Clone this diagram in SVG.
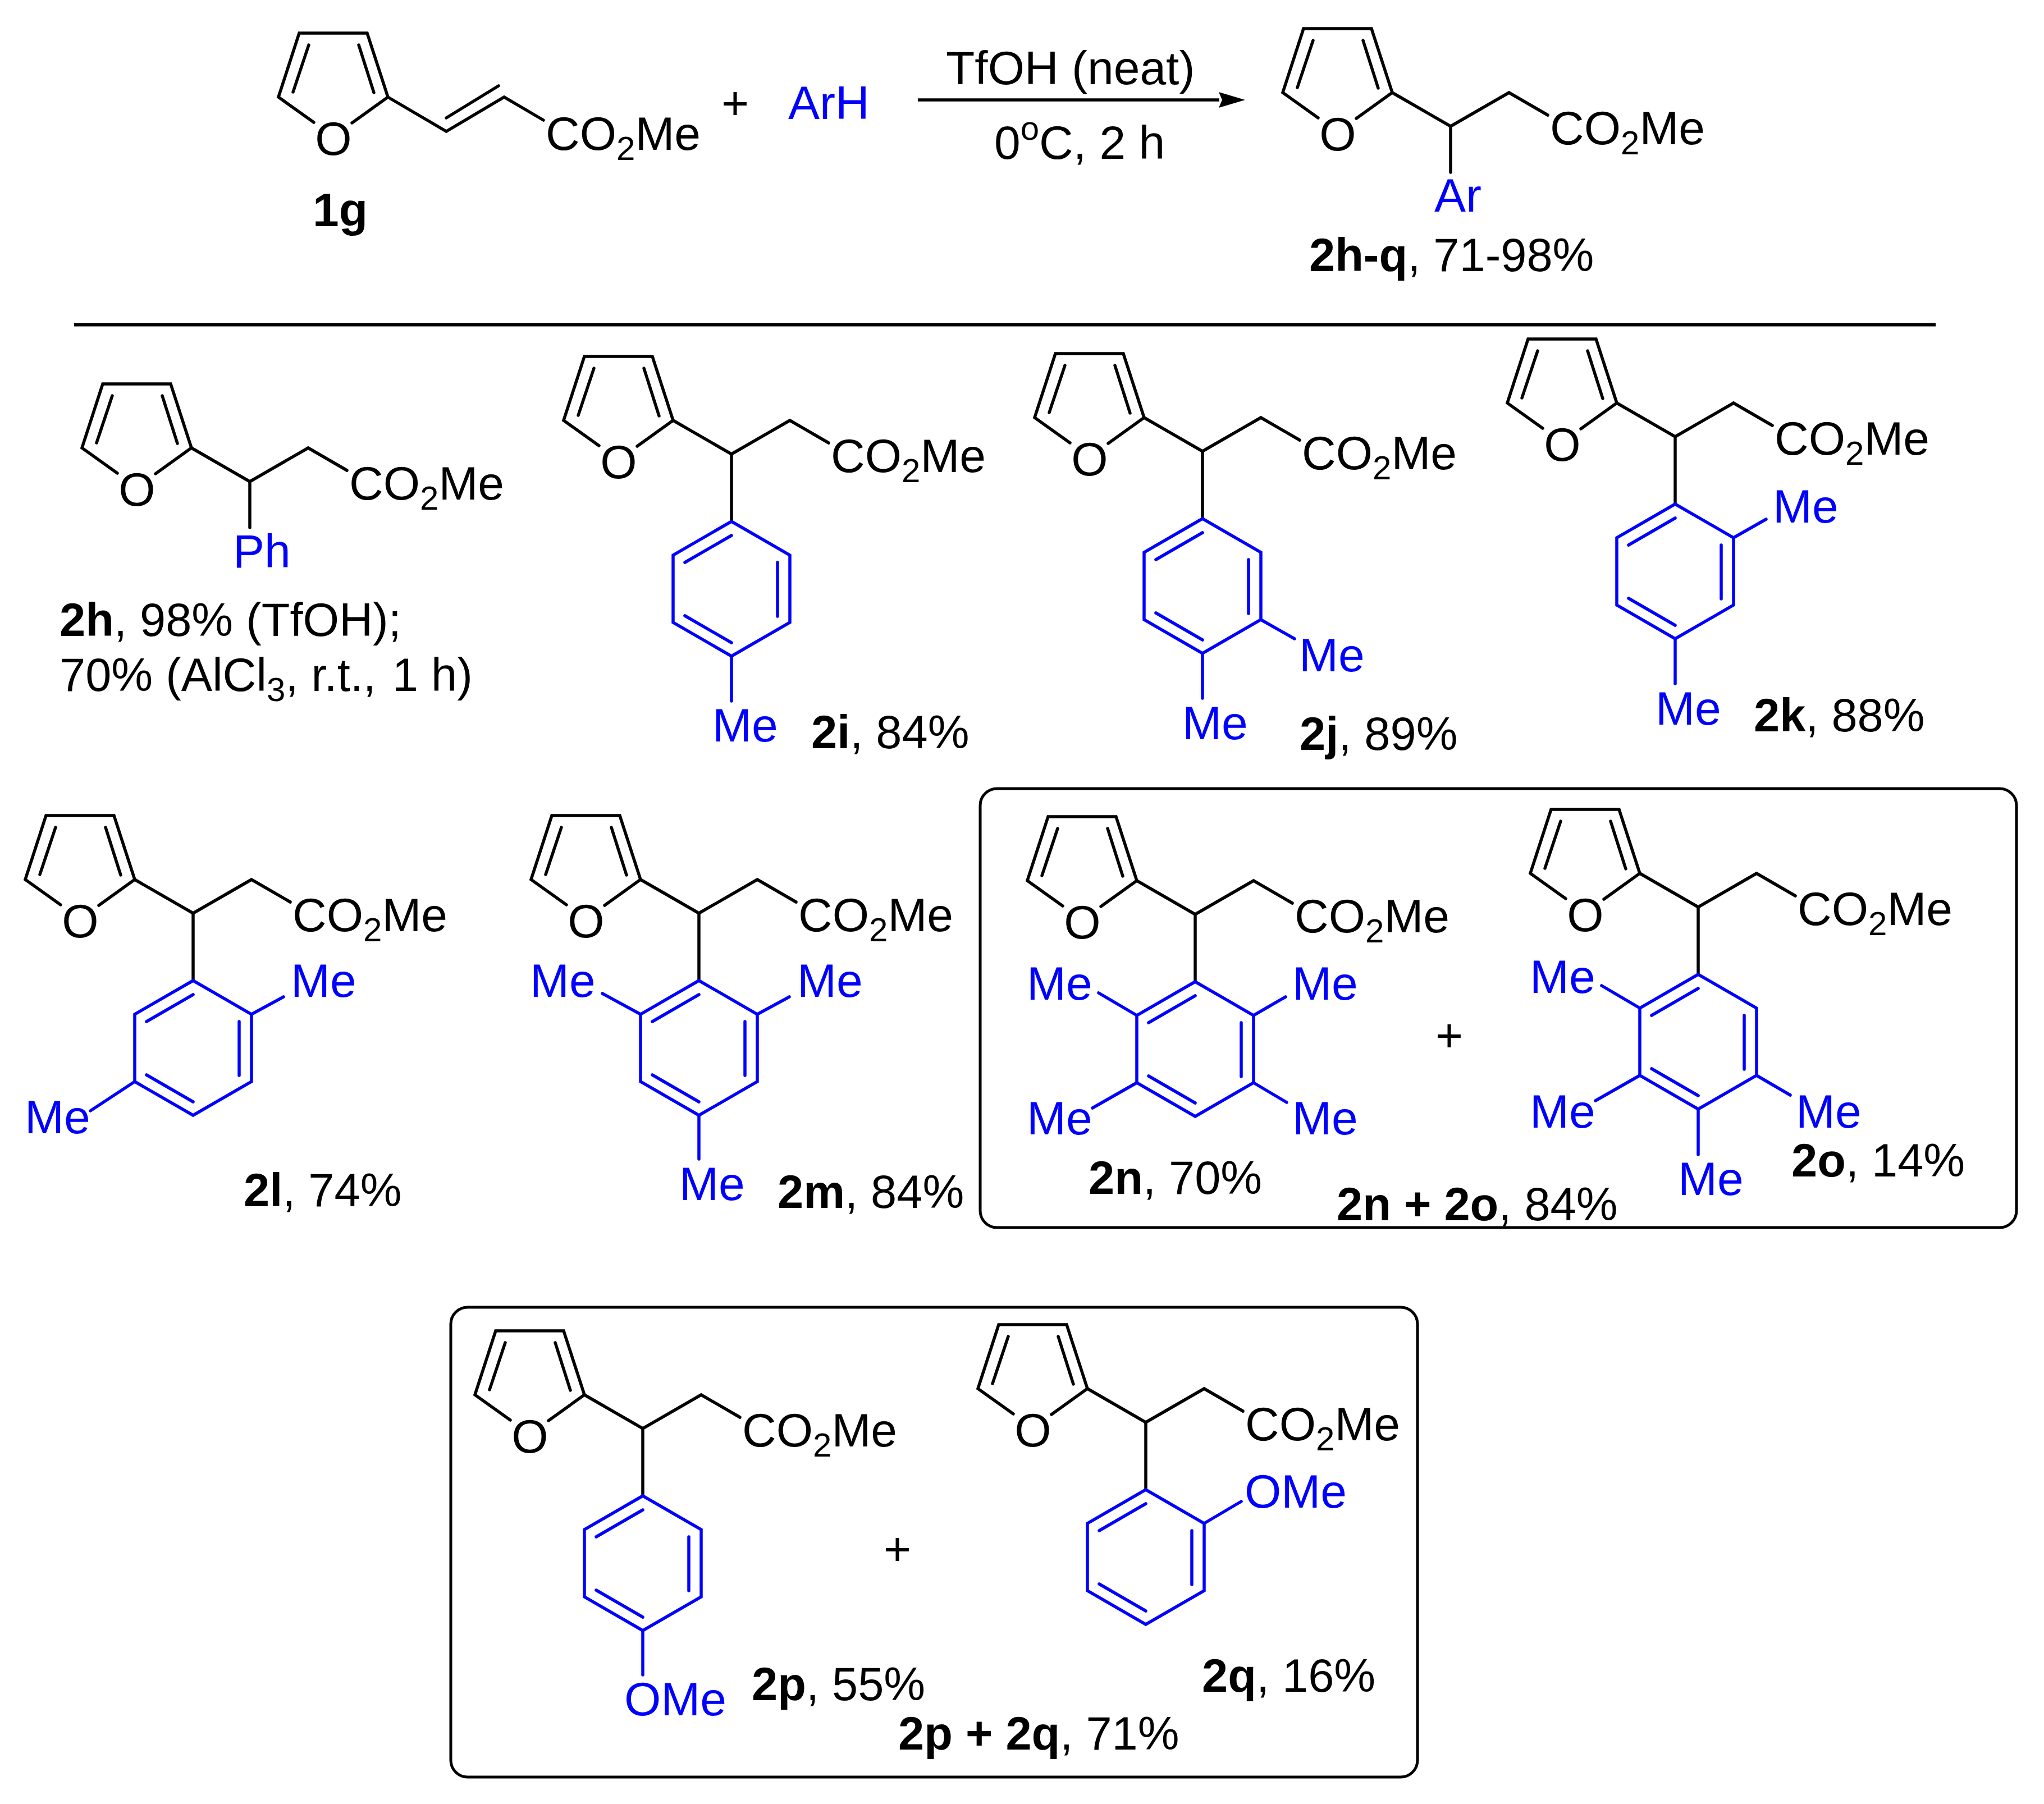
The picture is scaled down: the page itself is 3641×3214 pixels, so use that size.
<svg xmlns="http://www.w3.org/2000/svg" width="3641" height="3214" viewBox="0 0 3641 3214">
<style>
text{font-family:"Liberation Sans",Arial,sans-serif;font-size:84px;fill:#000}
.b{fill:#0000ff}
.s{font-size:60px}
.bold{font-weight:bold}
text.l{font-size:83px}
.k,.u{fill:none;stroke-width:5.5;stroke-linecap:round;stroke-linejoin:miter}
.k{stroke:#000}
.u{stroke:#0000ff}
.box{fill:none;stroke:#000;stroke-width:5}
</style>
<defs>
<path id="furan" class="k" d="M-64,46L0,0L-37,-114L-158,-114L-195,0L-132,45M-141,-93L-169,-9M-52,-93L-25,-8"/>
<path id="chain" class="k" d="M0,0L104,60L208,0L277,40"/>
<path id="stem" class="k" d="M104,60L104,180"/>
<path id="ring" class="u" d="M104,180L0,240L0,360L104,420L208,360L208,240ZM21,253L104,205M186,253L186,349M21,348L104,396"/>
<marker id="arrowhead" markerUnits="userSpaceOnUse" markerWidth="48" markerHeight="28" refX="1" refY="14" orient="auto" overflow="visible"><path d="M0,0L47,14L0,28L6,14Z" fill="#000"/></marker>
</defs>
<rect width="3641" height="3214" fill="#fff"/>

<g id="connectors">
<line x1="1635" y1="178" x2="2172" y2="178" stroke="#000" stroke-width="5.5" marker-end="url(#arrowhead)"/>
<line x1="132" y1="578.5" x2="3448" y2="578.5" stroke="#000" stroke-width="6"/>
</g>

<g id="reactant-1g">
<use href="#furan" x="691" y="173"/>
<path class="k" d="M691,173L795,234L898,173L968,214M795,210L888,153"/>
<text x="594" y="276" text-anchor="middle">O</text>
<text x="972" y="267">CO<tspan class="s" dy="18">2</tspan><tspan dy="-18">Me</tspan></text>
<text class="bold" x="557" y="403">1g</text>
</g>
<g id="plus-top"><text x="1285" y="212">+</text></g>
<g id="reagent-arh"><text class="b" x="1404" y="212">ArH</text></g>
<g id="conditions">
<text x="1685" y="150">TfOH (neat)</text>
<text x="1771" y="283">0<tspan class="s" dy="-34">o</tspan><tspan dy="34">C, 2 h</tspan></text>
</g>
<g id="product-general">
<use href="#furan" x="2480" y="165"/><use href="#chain" x="2480" y="165"/>
<path class="k" d="M2584,225L2584,307"/>
<text x="2383" y="268" text-anchor="middle">O</text>
<text x="2761" y="257">CO<tspan class="s" dy="18">2</tspan><tspan dy="-18">Me</tspan></text>
<text class="b" x="2555" y="377">Ar</text>
<text class="l" x="2332" y="483"><tspan class="bold">2h-q</tspan>, 71-98%</text>
</g>

<g id="compound-2h">
<use href="#furan" x="341" y="798"/><use href="#chain" x="341" y="798"/>
<path class="k" d="M445,858L445,940"/>
<text x="244" y="901" text-anchor="middle">O</text>
<text x="622" y="890">CO<tspan class="s" dy="18">2</tspan><tspan dy="-18">Me</tspan></text>
<text class="b" x="415" y="1011">Ph</text>
<text class="l" x="106" y="1133"><tspan class="bold">2h</tspan>, 98% (TfOH);</text>
<text class="l" x="106" y="1231">70% (AlCl<tspan class="s" dy="18">3</tspan><tspan dy="-18">, r.t.,</tspan><tspan dx="6"> 1 h)</tspan></text>
</g>

<g id="compound-2i">
<g transform="translate(1199,749)">
<use href="#furan"/><use href="#chain"/><use href="#stem"/><use href="#ring"/>
<path class="u" d="M104,420L104,500"/>
<text x="-97" y="103" text-anchor="middle">O</text>
<text x="281" y="92">CO<tspan class="s" dy="18">2</tspan><tspan dy="-18">Me</tspan></text>
</g>
<text class="b" x="1269" y="1321">Me</text>
<text class="l" x="1445" y="1333"><tspan class="bold">2i</tspan>, 84%</text>
</g>

<g id="compound-2j">
<g transform="translate(2038,744)">
<use href="#furan"/><use href="#chain"/><use href="#stem"/><use href="#ring"/>
<path class="u" d="M104,420L104,500M208,360L268,394"/>
<text x="-97" y="103" text-anchor="middle">O</text>
<text x="281" y="92">CO<tspan class="s" dy="18">2</tspan><tspan dy="-18">Me</tspan></text>
</g>
<text class="b" x="2314" y="1196">Me</text>
<text class="b" x="2106" y="1317">Me</text>
<text class="l" x="2315" y="1336"><tspan class="bold">2j</tspan>, 89%</text>
</g>

<g id="compound-2k">
<g transform="translate(2880,718)">
<use href="#furan"/><use href="#chain"/><use href="#stem"/><use href="#ring"/>
<path class="u" d="M104,420L104,500M208,240L266,207"/>
<text x="-97" y="103" text-anchor="middle">O</text>
<text x="281" y="92">CO<tspan class="s" dy="18">2</tspan><tspan dy="-18">Me</tspan></text>
</g>
<text class="b" x="3158" y="931">Me</text>
<text class="b" x="2949" y="1291">Me</text>
<text class="l" x="3124" y="1303"><tspan class="bold">2k</tspan>, 88%</text>
</g>

<g id="compound-2l">
<g transform="translate(240,1567)">
<use href="#furan"/><use href="#chain"/><use href="#stem"/><use href="#ring"/>
<path class="u" d="M0,360L-79,412M208,240L265,209" />
<text x="-97" y="103" text-anchor="middle">O</text>
<text x="281" y="92">CO<tspan class="s" dy="18">2</tspan><tspan dy="-18">Me</tspan></text>
</g>
<text class="b" x="518" y="1776">Me</text>
<text class="b" x="44" y="2019">Me</text>
<text class="l" x="434" y="2149"><tspan class="bold">2l</tspan>, 74%</text>
</g>

<g id="compound-2m">
<g transform="translate(1141,1567)">
<use href="#furan"/><use href="#chain"/><use href="#stem"/><use href="#ring"/>
<path class="u" d="M0,240L-68,203M208,240L265,209M104,420L104,498"/>
<text x="-97" y="103" text-anchor="middle">O</text>
<text x="281" y="92">CO<tspan class="s" dy="18">2</tspan><tspan dy="-18">Me</tspan></text>
</g>
<text class="b" x="944" y="1776">Me</text>
<text class="b" x="1420" y="1776">Me</text>
<text class="b" x="1210" y="2138">Me</text>
<text class="l" x="1385" y="2152"><tspan class="bold">2m</tspan>, 84%</text>
</g>

<g id="box-2n-2o">
<rect class="box" x="1746" y="1405" width="1846" height="782" rx="30"/>
<text x="2557" y="1873">+</text>
<text class="l" x="2381" y="2174"><tspan class="bold">2n + 2o</tspan>, 84%</text>
</g>

<g id="compound-2n">
<g transform="translate(2025,1569)">
<use href="#furan"/><use href="#chain"/><use href="#stem"/><use href="#ring"/>
<path class="u" d="M0,240L-68,200M208,240L265,207M0,360L-79,405M208,360L267,395"/>
<text x="-97" y="103" text-anchor="middle">O</text>
<text x="281" y="92">CO<tspan class="s" dy="18">2</tspan><tspan dy="-18">Me</tspan></text>
</g>
<text class="b" x="1829" y="1781">Me</text>
<text class="b" x="2302" y="1781">Me</text>
<text class="b" x="1829" y="2021">Me</text>
<text class="b" x="2302" y="2021">Me</text>
<text class="l" x="1939" y="2127"><tspan class="bold">2n</tspan>, 70%</text>
</g>

<g id="compound-2o">
<g transform="translate(2921,1556)">
<use href="#furan"/><use href="#chain"/><use href="#stem"/><use href="#ring"/>
<path class="u" d="M0,240L-68,200M0,360L-79,405M208,360L268,395M104,420L104,501"/>
<text x="-97" y="103" text-anchor="middle">O</text>
<text x="281" y="92">CO<tspan class="s" dy="18">2</tspan><tspan dy="-18">Me</tspan></text>
</g>
<text class="b" x="2725" y="1769">Me</text>
<text class="b" x="2725" y="2009">Me</text>
<text class="b" x="3199" y="2009">Me</text>
<text class="b" x="2989" y="2129">Me</text>
<text class="l" x="3191" y="2096"><tspan class="bold">2o</tspan>, 14%</text>
</g>

<g id="box-2p-2q">
<rect class="box" x="803" y="2329" width="1722" height="837" rx="30"/>
<text x="1574" y="2788">+</text>
<text class="l" x="1600" y="3117"><tspan class="bold">2p + 2q</tspan>, 71%</text>
</g>

<g id="compound-2p">
<g transform="translate(1041,2485)">
<use href="#furan"/><use href="#chain"/><use href="#stem"/><use href="#ring"/>
<path class="u" d="M104,420L104,499"/>
<text x="-97" y="103" text-anchor="middle">O</text>
<text x="281" y="92">CO<tspan class="s" dy="18">2</tspan><tspan dy="-18">Me</tspan></text>
</g>
<text class="b" x="1112" y="3056">OMe</text>
<text class="l" x="1339" y="3029"><tspan class="bold">2p</tspan>, 55%</text>
</g>

<g id="compound-2q">
<g transform="translate(1937,2474)">
<use href="#furan"/><use href="#chain"/><use href="#stem"/><use href="#ring"/>
<path class="u" d="M208,240L274,201"/>
<text x="-97" y="103" text-anchor="middle">O</text>
<text x="281" y="92">CO<tspan class="s" dy="18">2</tspan><tspan dy="-18">Me</tspan></text>
</g>
<text class="b" x="2217" y="2686">OMe</text>
<text class="l" x="2141" y="3014"><tspan class="bold">2q</tspan>, 16%</text>
</g>
</svg>
